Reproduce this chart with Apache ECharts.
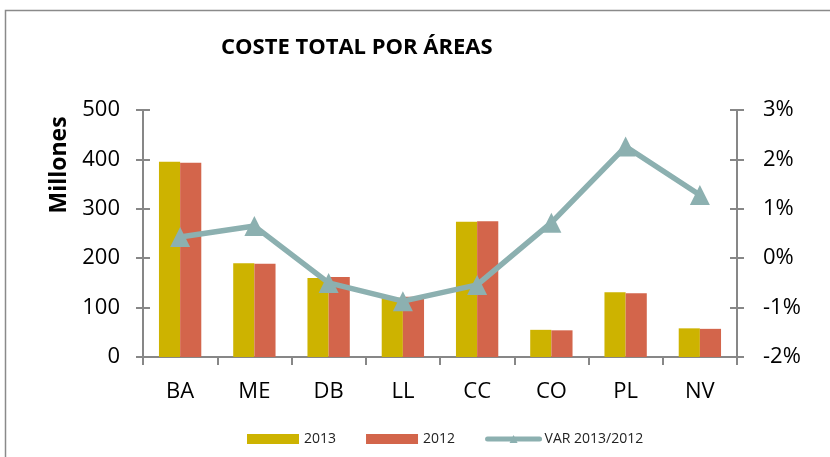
<!DOCTYPE html>
<html><head><meta charset="utf-8">
<script src="https://cdn.jsdelivr.net/npm/echarts@6/dist/echarts.min.js"></script>
<style>html,body{margin:0;padding:0;background:#fff}#c{width:830px;height:457px}</style>
</head><body><div id="c"></div>
<script>
const categories = ['BA','ME','DB','LL','CC','CO','PL','NV'];
const values2013 = [395, 190, 160, 120, 274, 55, 131, 58];
const values2012 = [393, 189, 162, 122, 275, 54, 129, 57];
const varPct = [0.43, 0.65, -0.5, -0.87, -0.54, 0.72, 2.26, 1.28];
const leftTicks = [0, 100, 200, 300, 400, 500];
const rightTicks = [-2, -1, 0, 1, 2, 3];

const axisGray = '#878787';
const font = 'Open Sans, Liberation Sans, sans-serif';
const chart = echarts.init(document.getElementById('c'));
chart.setOption({
  animation: false,
  backgroundColor: '#fff',
  graphic: [
    {type:'rect', shape:{x:5.5, y:10.5, width:840, height:470}, style:{fill:'none', stroke:'#8a8a8a', lineWidth:1.5}, silent:true},
    {type:'text', x:59, y:165, rotation:Math.PI/2, style:{text:'Millones', fontFamily:font, fontWeight:'bold', fontSize:23, fill:'#000', align:'center', verticalAlign:'middle'}, silent:true}
  ],
  title: {text:'COSTE TOTAL POR ÁREAS', left:216, top:32, textStyle:{fontFamily:font, fontWeight:'bold', fontSize:22, color:'#000'}},
  legend: {
    top: 427, left: 242, itemGap: 30, itemWidth: 52, itemHeight: 10,
    textStyle:{fontFamily:font, fontSize:14, color:'#222'},
    data:[{name:'2013', icon:'rect'},{name:'2012', icon:'rect'},
          {name:'VAR 2013/2012', lineStyle:{width:5, cap:'round'}}]
  },
  grid: {left:143, right:93, top:110, bottom:100},
  xAxis: {
    type:'category', data:categories,
    axisLine:{lineStyle:{color:axisGray, width:2}},
    axisTick:{show:true, length:8, lineStyle:{color:axisGray, width:2}},
    axisLabel:{fontFamily:font, fontSize:22, color:'#000', margin:24}
  },
  yAxis: [
    {type:'value', min:0, max:500, interval:100, position:'left',
     axisLine:{show:true, lineStyle:{color:axisGray, width:2}},
     axisTick:{show:true, inside:true, length:7, lineStyle:{color:axisGray, width:2}},
     splitLine:{show:false},
     axisLabel:{fontFamily:font, fontSize:22, color:'#000', margin:23}},
    {type:'value', min:-2, max:3, interval:1, position:'right',
     axisLine:{show:true, lineStyle:{color:axisGray, width:2}},
     axisTick:{show:true, inside:true, length:7, lineStyle:{color:axisGray, width:2}},
     splitLine:{show:false},
     axisLabel:{fontFamily:font, fontSize:22, color:'#000', margin:26, formatter:v=>v+'%'}},
    {type:'value', min:0, max:500, interval:100, position:'left',
     axisLine:{show:false}, axisLabel:{show:false}, splitLine:{show:false},
     axisTick:{show:true, length:7, lineStyle:{color:axisGray, width:2}}},
    {type:'value', min:-2, max:3, interval:1, position:'right',
     axisLine:{show:false}, axisLabel:{show:false}, splitLine:{show:false},
     axisTick:{show:true, length:7, lineStyle:{color:axisGray, width:2}}}
  ],
  series: [
    {name:'2013', type:'bar', data:values2013, yAxisIndex:0, barGap:'0%', barCategoryGap:'43%', itemStyle:{color:'#CDB300'}},
    {name:'2012', type:'bar', data:values2012, yAxisIndex:0, itemStyle:{color:'#D3654B'}},
    {name:'VAR 2013/2012', type:'line', data:varPct, yAxisIndex:1, symbol:'triangle', symbolSize:20,
     lineStyle:{color:'#8CB0B0', width:5.5}, itemStyle:{color:'#8CB0B0'}}
  ]
});
</script></body></html>
